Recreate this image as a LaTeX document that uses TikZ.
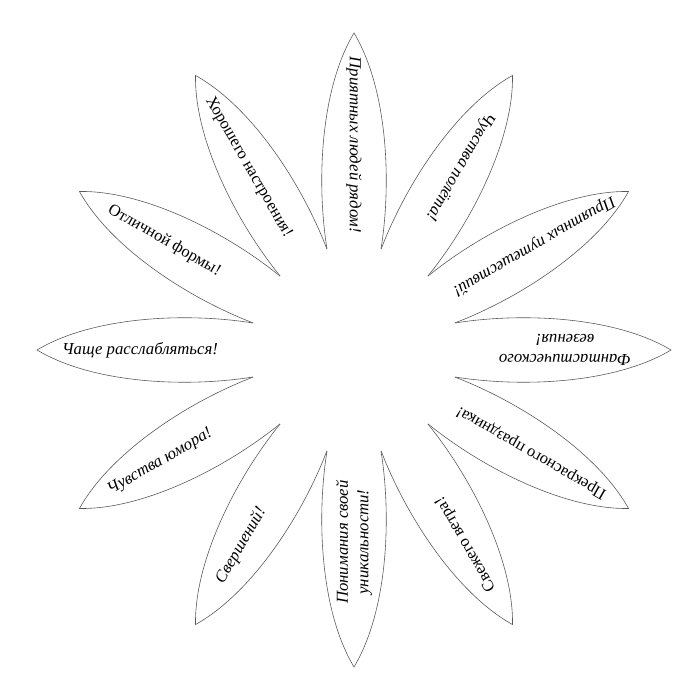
\documentclass[tikz,border=0pt]{standalone}
\usepackage{fontspec}
\setmainfont{Liberation Serif}
\usetikzlibrary{calc}
\begin{document}
\begin{tikzpicture}[x=0.03cm,y=0.03cm,
  petal/.style={draw=black!65, line width=0.5pt},
  lbl/.style={font=\fontsize{14.3}{17.5}\selectfont\itshape, align=center, inner sep=0pt},
  lblup/.style={font=\fontsize{14}{17}\selectfont, align=center, inner sep=0pt}]
\useasboundingbox (0,0) rectangle (700,700);
\coordinate (c) at (354,350);
\foreach \a in {0,30,...,330}{
  \begin{scope}[shift={(c)},rotate=\a]
    \draw[petal] (101,27) .. controls (170,38) and (262,33) .. (317,0)
                          .. controls (262,-33) and (170,-38) .. (101,-27);
  \end{scope}
}
\node[lbl, rotate=-90]  (p90)  at ($(c)+(90:205)$) {Приятных людей рядом!};
\node[lbl, rotate=240]  (p60)  at ($(c)+(60:212)$) {Чувства полёта!};
\node[lbl, rotate=210]  (p30)  at ($(c)+(30:208)$) {Приятных путешествий!};
\node[lbl, rotate=180]  (p0)   at ($(c)+(0:211)$)  {Фантастического\\везения!};
\node[lblup, rotate=150] (p330) at ($(c)+(-30:205)$) {Прекрасного праздника!};
\node[lblup, rotate=120] (p300) at ($(c)+(-60:224)$) {Свежего ветра!};
\node[lbl, rotate=90]   (p270) at ($(c)+(-90:192)$) {Понимания своей\\уникальности!};
\node[lbl, rotate=60]   (p240) at ($(c)+(240:226)$) {Свершений!};
\node[lbl, rotate=30]   (p210) at ($(c)+(210:224)$) {Чувства юмора!};
\node[lbl]              (p180) at ($(c)+(180:214)$) {Чаще расслабляться!};
\node[lblup, rotate=-30] (p150) at ($(c)+(150:219)$) {Отличной формы!};
\node[lblup, rotate=-60] (p120) at ($(c)+(120:211)$) {Хорошего настроения!};
\end{tikzpicture}
\end{document}
